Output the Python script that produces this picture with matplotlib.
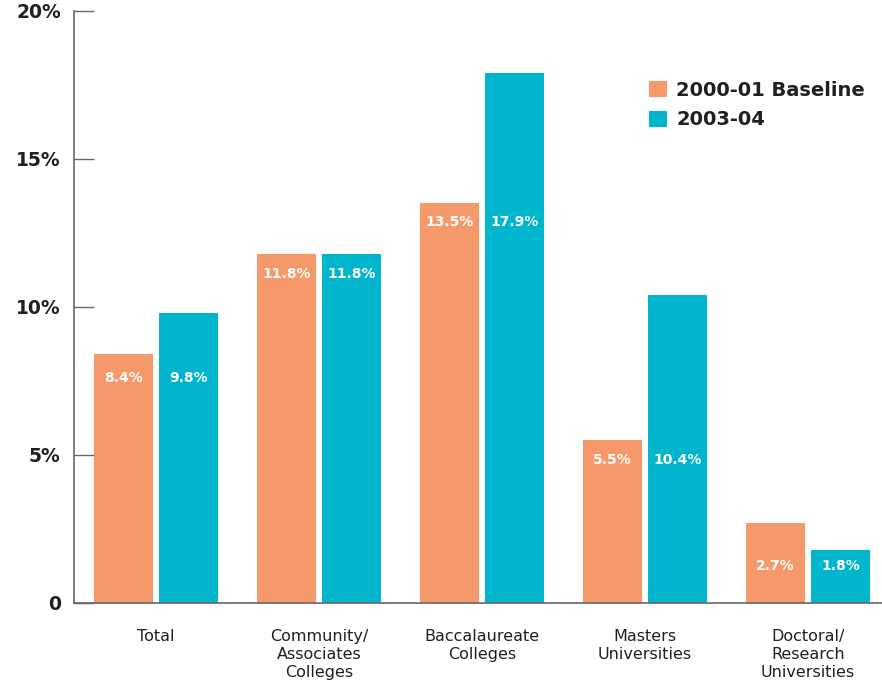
import numpy as np
import matplotlib.pyplot as plt

categories = ['Total', 'Community/\nAssociates\nColleges', 'Baccalaureate\nColleges',
              'Masters\nUniversities', 'Doctoral/\nResearch\nUniversities']
baseline = [8.4, 11.8, 13.5, 5.5, 2.7]
recent = [9.8, 11.8, 17.9, 10.4, 1.8]
series_names = ['2000-01 Baseline', '2003-04']
yticks = [0, 5, 10, 15, 20]
ytick_labels = ['0', '5%', '10%', '15%', '20%']

orange = '#F6996A'
teal = '#00B5CC'
text_col = '#231F20'

fig = plt.figure(figsize=(8.82, 6.83), dpi=100)
ax = fig.add_axes([74/882, 1 - 603/683, 1 - 74/882, (603 - 11)/683])

x = np.arange(len(categories))
w = 0.362
off = (w + 0.037) / 2
ax.bar(x - off, baseline, w, color=orange, label=series_names[0])
ax.bar(x + off, recent, w, color=teal, label=series_names[1])

# value labels sit a bit below the shorter bar top of each pair
label_y = [7.6, 11.1, 12.87, 4.83, 1.25]
for i in range(len(categories)):
    ax.text(x[i] - off, label_y[i], f'{baseline[i]}%', color='white', fontsize=10,
            fontweight='bold', ha='center', va='center')
    ax.text(x[i] + off, label_y[i], f'{recent[i]}%', color='white', fontsize=10,
            fontweight='bold', ha='center', va='center')

ax.set_xlim(-0.503, 4.454)
ax.set_ylim(0, 20)
ax.set_yticks(yticks)
ax.set_yticklabels(ytick_labels, fontsize=13.5, fontweight='bold', color=text_col)
ax.tick_params(axis='y', direction='in', length=14.5, width=1, color='#666666', pad=9.5)
ax.set_xticks(x)
ax.set_xticklabels(categories, fontsize=11.5, color=text_col, linespacing=1.25)
ax.tick_params(axis='x', length=0, pad=19)
for s in ['top', 'right']:
    ax.spines[s].set_visible(False)
for s in ['left', 'bottom']:
    ax.spines[s].set_color('#666666')
    ax.spines[s].set_linewidth(1.2)

leg = ax.legend(loc='upper left', bbox_to_anchor=(0.69, 0.912), frameon=False,
                fontsize=14, handlelength=0.9, handleheight=0.9, handletextpad=0.5,
                labelspacing=0.55)
for t in leg.get_texts():
    t.set_fontweight('bold')
    t.set_color(text_col)

fig.savefig('out.png', dpi=100)
